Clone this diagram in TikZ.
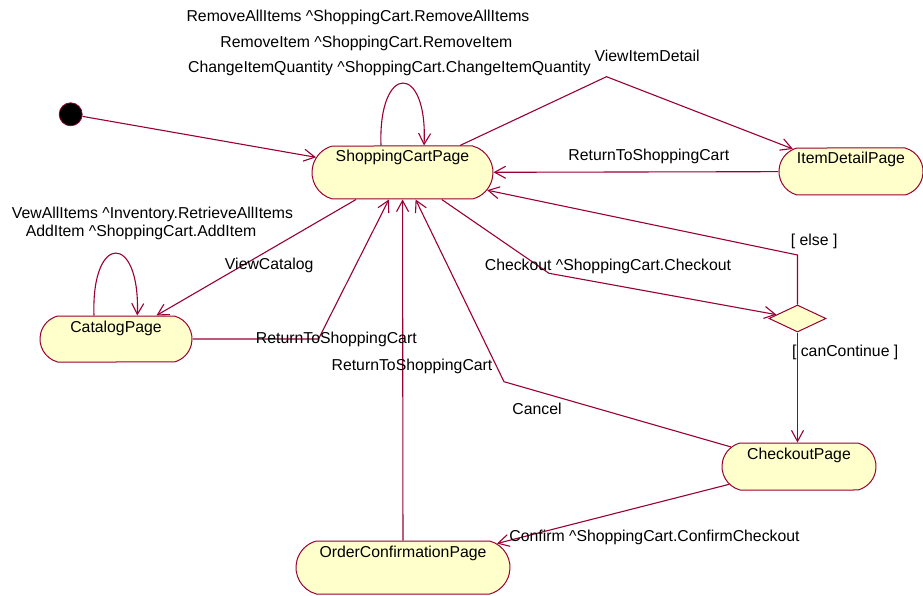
\documentclass[tikz,border=0pt]{standalone}
\usepackage{fontspec}
\setmainfont{Liberation Sans}
\usetikzlibrary{arrows.meta,shapes.misc,shapes.geometric}
\definecolor{umlline}{HTML}{990033}
\definecolor{umlfill}{HTML}{FFFFCC}
\begin{document}
\begin{tikzpicture}[x=1bp,y=-1bp,
  every node/.style={font=\fontsize{15.8bp}{18bp}\selectfont},
  state/.style={draw=umlline, fill=umlfill, line width=1bp, rounded rectangle,
    rounded rectangle arc length=150, inner xsep=0pt, inner ysep=0pt, text height=16bp},
  choice/.style={draw=umlline, fill=umlfill, line width=1bp, diamond, inner sep=0pt,
    minimum width=57bp, minimum height=27bp},
  start/.style={circle, draw=umlline, fill=black, line width=0.8bp, inner sep=0pt, minimum size=23bp},
  tr/.style={draw=umlline, line width=1.1bp, -{Straight Barb[length=11bp,width=12bp]}},
  lbl/.style={inner sep=0pt, anchor=base}
]
\useasboundingbox (0,0) rectangle (923,596);

% states
\node[start] (init) at (70.7,114.3) {};
\node[state, minimum width=181bp, minimum height=53bp, text depth=37bp] (scp) at (402.5,172.5) {ShoppingCartPage};
\node[state, minimum width=142bp, minimum height=47bp, text depth=31bp] (idp) at (851,171.5) {ItemDetailPage};
\node[state, minimum width=152bp, minimum height=46bp, text depth=30bp] (cat) at (116,339) {CatalogPage};
\node[choice] (dia) at (797.5,318.5) {};
\node[state, minimum width=154bp, minimum height=47bp, text depth=31bp] (cop) at (799,466.5) {CheckoutPage};
\node[state, minimum width=214bp, minimum height=53bp, text depth=37bp] (ocp) at (403,567.5) {OrderConfirmationPage};

% bend points of the routed transitions
\coordinate (vidBend) at (606.5,76.7);
\coordinate (elseBend) at (797.5,255);
\coordinate (chkBend) at (549,273.3);
\coordinate (cancelBend) at (504,381.7);
\coordinate (catBend) at (318.5,339);

% transitions
\draw[tr] (init) -- (scp);
\draw[tr] ([xshift=-21.5bp]scp.north) .. controls +(-3,-83) and +(4,-83) .. ([xshift=21.5bp]scp.north);
\draw[tr] (scp) -- (vidBend) -- (idp);
\draw[tr] (idp) -- (scp);
\draw[tr] (dia.north) -- (elseBend) -- (scp);
\draw[tr] (scp) -- (chkBend) -- (dia);
\draw[tr] (dia.south) -- (dia.south |- cop.north);
\draw[tr] (cop) -- (cancelBend) -- (scp);
\draw[tr] (ocp) -- (scp);
\draw[tr] (cat) -- (catBend) -- (scp);
\draw[tr] (scp) -- (cat);
\draw[tr] ([xshift=-22bp]cat.north) .. controls +(-3,-83) and +(3,-83) .. ([xshift=21.3bp]cat.north);
\draw[tr] (cop) -- (ocp);

% transition labels
\node[lbl] (lRemAll) at (358,21.2) {RemoveAllItems \^{}ShoppingCart.RemoveAllItems};
\node[lbl] (lRem) at (366.4,48) {RemoveItem \^{}ShoppingCart.RemoveItem};
\node[lbl] (lChg) at (389.5,73) {ChangeItemQuantity \^{}ShoppingCart.ChangeItemQuantity};
\node[lbl] (lVid) at (647.2,62) {ViewItemDetail};
\node[lbl] (lRetIdp) at (648.8,160.5) {ReturnToShoppingCart};
\node[lbl] (lElse) at (814.2,245.3) {[ else ]};
\node[lbl] (lChk) at (608,271) {Checkout \^{}ShoppingCart.Checkout};
\node[lbl] (lCan) at (845.2,356.7) {[ canContinue ]};
\node[lbl] (lCancel) at (537,414.5) {Cancel};
\node[lbl] (lRetOcp) at (412,370) {ReturnToShoppingCart};
\node[lbl] (lRetCat) at (336.3,343.2) {ReturnToShoppingCart};
\node[lbl] (lVcat) at (269.2,269.2) {ViewCatalog};
\node[lbl] (lVall) at (152.5,218.3) {VewAllItems \^{}Inventory.RetrieveAllItems};
\node[lbl] (lAdd) at (141,236.6) {AddItem \^{}ShoppingCart.AddItem};
\node[lbl] (lConf) at (654.5,541.7) {Confirm \^{}ShoppingCart.ConfirmCheckout};
\end{tikzpicture}
\end{document}
